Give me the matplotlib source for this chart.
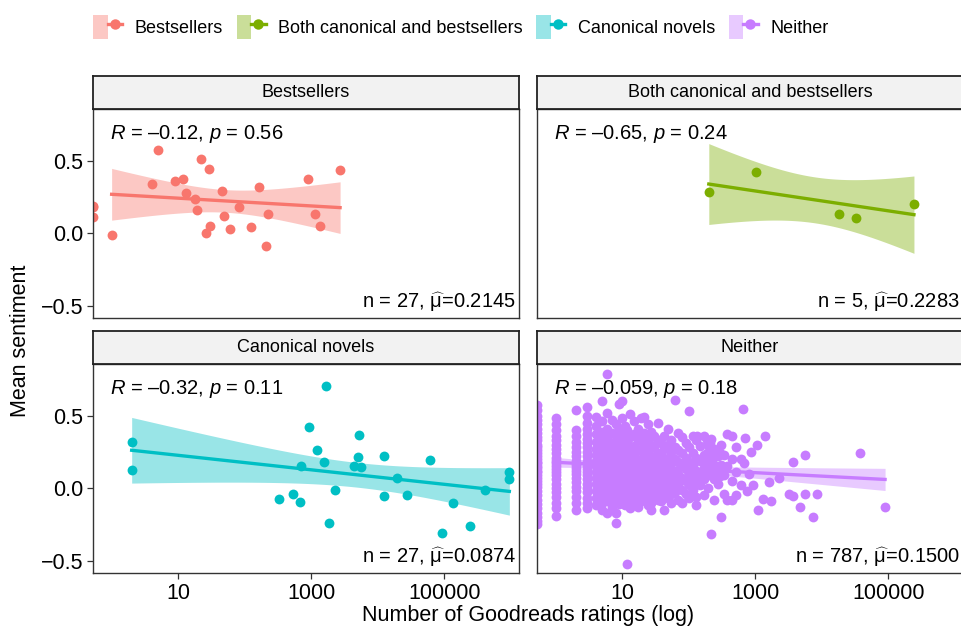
import math
import numpy as np
import matplotlib.pyplot as plt
from matplotlib.patches import Patch
from matplotlib.lines import Line2D
from matplotlib.legend_handler import HandlerTuple

plt.rcParams['font.family'] = ['Liberation Sans', 'DejaVu Sans']
plt.rcParams['mathtext.fontset'] = 'custom'
plt.rcParams['mathtext.rm'] = 'Liberation Sans'
plt.rcParams['mathtext.it'] = 'Liberation Sans:italic'

groups = ['Bestsellers', 'Both canonical and bestsellers', 'Canonical novels', 'Neither']
colors = ['#F8766D', '#7CAE00', '#00BFC4', '#C77CFF']
cor_labels = ['$R$ = \u20130.12, $p$ = 0.56', '$R$ = \u20130.65, $p$ = 0.24',
              '$R$ = \u20130.32, $p$ = 0.11', '$R$ = \u20130.059, $p$ = 0.18']
n_labels = [r'n = 27, $\widehat{\mathrm{μ}}$=0.2145', r'n = 5, $\widehat{\mathrm{μ}}$=0.2283',
            r'n = 27, $\widehat{\mathrm{μ}}$=0.0874', r'n = 787, $\widehat{\mathrm{μ}}$=0.1500']

# ratings of 0 sit at the left panel edge (log scale -> -Inf)
best_ratings = [0, 0, 0, 1, 4, 5, 9, 12, 13, 18, 19, 22, 29, 30, 26, 46, 48, 60,
                82, 126, 164, 209, 224, 881, 1122, 1349, 2704]
best_sent = [0.177, 0.109, 0.19, -0.014, 0.341, 0.575, 0.357, 0.370, 0.273, 0.236,
             0.161, 0.509, 0.445, 0.05, 0.0, 0.293, 0.120, 0.027, 0.182, 0.039,
             0.316, -0.091, 0.132, 0.375, 0.134, 0.052, 0.432]

both_ratings = [200, 1038, 17906, 32810, 241546]
both_sent = [0.286, 0.421, 0.132, 0.106, 0.200]

canon_ratings = [2, 2, 327, 522, 667, 698, 914, 1211, 1545, 1637, 1820, 2270, 4315,
                 4966, 5260, 5572, 12303, 12303, 19187, 26915, 60256, 91622,
                 136144, 238232, 407380, 922571, 944061]
canon_sent = [0.321, 0.126, -0.073, -0.039, -0.099, 0.149, 0.422, 0.261, 0.179,
              0.702, -0.239, -0.011, 0.151, 0.216, 0.367, 0.144, 0.220, -0.053,
              0.071, -0.050, 0.197, -0.312, -0.101, -0.264, -0.014, 0.110, 0.064]

# Neither: columns at 0, 1, 2 and 3 ratings
nei_r0 = [0.57, 0.54, 0.50, 0.47, 0.44, 0.41, 0.38, 0.35, 0.33, 0.30, 0.28, 0.26,
          0.24, 0.22, 0.20, 0.18, 0.17, 0.15, 0.14, 0.12, 0.11, 0.09, 0.07, 0.05,
          0.03, 0.01, -0.02, -0.05, -0.08, -0.11, -0.14, -0.17, -0.20, -0.23, -0.25]
nei_r1 = [0.48, 0.44, 0.40, 0.36, 0.33, 0.30, 0.27, 0.24, 0.21, 0.19, 0.17, 0.15,
          0.13, 0.11, 0.09, 0.06, 0.03, 0.00, -0.03, -0.06, -0.10, -0.14, -0.19]
nei_r2 = [0.54, 0.40, 0.36, 0.32, 0.28, 0.25, 0.22, 0.19, 0.16, 0.14, 0.12, 0.10,
          0.07, 0.04, 0.01, -0.02, -0.06, -0.10, -0.15]
nei_r3 = [0.56, 0.50, 0.45, 0.41, 0.37, 0.34, 0.31, 0.28, 0.25, 0.22, 0.19, 0.17,
          0.15, 0.13, 0.11, 0.09, 0.06, 0.03, 0.00, -0.03, -0.07, -0.10, -0.14]

nei_cloud_ratings = (
    [4] * 14 + [5] * 15 + [6] * 14 + [7] * 12 + [8] * 12 + [9] * 11 + [10] * 11
    + [11] * 10 + [12] * 9 + [13] * 10 + [15] * 10 + [17] * 9 + [19] * 9 + [21] * 9
    + [24] * 9 + [27] * 9 + [30] * 7 + [34] * 8 + [38] * 7 + [43] * 8 + [48] * 7
    + [55] * 7 + [63] * 6 + [70] * 6 + [80] * 6 + [90] * 5 + [100] * 6 + [115] * 5
    + [130] * 6 + [134] * 2 + [150] * 4 + [170] * 5 + [185] * 2 + [195] * 4
    + [205] * 2 + [214] * 4 + [230] * 2 + [240] * 4 + [260] * 2 + [275] * 3
    + [290] * 2 + [302] * 3 + [340] * 3 + [380] * 3 + [447] * 4 + [520] * 3
    + [600] * 2 + [660, 708, 680, 760, 800, 850, 933, 1047, 1096, 1288, 1413, 1622,
                   1700, 2290, 3162, 3715, 3715, 4677, 5500, 5500, 7244, 8500,
                   37150, 89000])
nei_cloud_sent = [
    0.49, 0.43, 0.37, 0.32, 0.27, 0.23, 0.19, 0.15, 0.11, 0.07, 0.03, -0.02, -0.07, -0.12,
    0.60, 0.46, 0.39, 0.34, 0.29, 0.25, 0.21, 0.17, 0.13, 0.09, 0.05, 0.00, -0.05, -0.10, -0.15,
    0.79, 0.52, 0.41, 0.35, 0.30, 0.24, 0.19, 0.14, 0.10, 0.06, 0.01, -0.04, -0.09, -0.17,
    0.47, 0.38, 0.31, 0.26, 0.20, 0.16, 0.11, 0.06, 0.02, -0.03, -0.08, -0.13,
    0.44, 0.36, 0.28, 0.22, 0.17, 0.12, 0.08, 0.03, -0.02, -0.07, -0.17, -0.24,
    0.58, 0.41, 0.33, 0.27, 0.21, 0.15, 0.10, 0.05, -0.01, -0.06, -0.11,
    0.60, 0.48, 0.39, 0.31, 0.25, 0.19, 0.13, 0.08, 0.03, -0.04, -0.10,
    0.43, 0.36, 0.29, 0.23, 0.17, 0.12, 0.06, 0.01, -0.05, -0.12,
    0.40, 0.32, 0.25, 0.18, 0.12, 0.07, 0.01, -0.06, -0.52,
    0.51, 0.35, 0.27, 0.21, 0.15, 0.09, 0.04, -0.03, -0.09, -0.14,
    0.46, 0.37, 0.29, 0.22, 0.16, 0.10, 0.05, -0.01, -0.07, -0.11,
    0.41, 0.33, 0.26, 0.19, 0.13, 0.07, 0.01, -0.05, -0.13,
    0.48, 0.35, 0.27, 0.20, 0.14, 0.08, 0.02, -0.04, -0.09,
    0.49, 0.38, 0.30, 0.23, 0.16, 0.10, 0.04, -0.02, -0.08,
    0.44, 0.33, 0.25, 0.18, 0.12, 0.06, 0.00, -0.06, -0.12,
    0.39, 0.30, 0.22, 0.15, 0.09, 0.03, -0.03, -0.10, -0.15,
    0.36, 0.28, 0.20, 0.13, 0.07, 0.01, -0.05,
    0.45, 0.33, 0.24, 0.17, 0.11, 0.05, -0.02, -0.08,
    0.31, 0.23, 0.16, 0.10, 0.03, -0.04, -0.09,
    0.36, 0.27, 0.19, 0.12, 0.06, -0.01, -0.07, -0.15,
    0.41, 0.30, 0.21, 0.14, 0.08, 0.01, -0.06,
    0.33, 0.25, 0.17, 0.10, 0.03, -0.04, -0.10,
    0.61, 0.28, 0.20, 0.12, 0.05, -0.03,
    0.38, 0.26, 0.18, 0.10, 0.02, -0.08,
    0.35, 0.24, 0.15, 0.07, -0.01, -0.10,
    0.31, 0.21, 0.13, 0.05, -0.04,
    0.53, 0.28, 0.18, 0.10, 0.02, -0.07,
    0.36, 0.24, 0.15, 0.07, -0.01,
    0.33, 0.21, 0.12, 0.04, -0.06, -0.12,
    0.36, 0.06,
    0.29, 0.19, 0.10, 0.02,
    0.36, 0.23, 0.14, 0.06, -0.05,
    0.33, 0.24,
    0.30, 0.18, 0.09, 0.00,
    0.31, 0.17,
    0.34, 0.21, 0.12, -0.32,
    0.21, 0.13,
    0.27, 0.15, 0.06, -0.08,
    0.15, 0.24,
    0.22, 0.12, 0.03,
    0.08, 0.24,
    0.30, 0.16, -0.20,
    0.23, 0.09, -0.04,
    0.37, 0.15, -0.08,
    0.36, 0.20, 0.05, -0.08,
    0.28, 0.11, -0.05,
    0.20, 0.02,
    0.548, 0.342, 0.174, -0.02, 0.10, 0.25, 0.018, 0.294, -0.154, -0.078, 0.362, 0.041,
    -0.09, 0.071, -0.044, 0.181, -0.055, -0.131, 0.225, -0.044, -0.197, -0.044,
    0.239, -0.131]

nei_ratings = [0] * len(nei_r0) + [1] * len(nei_r1) + [2] * len(nei_r2) + [3] * len(nei_r3) + nei_cloud_ratings
nei_sent = nei_r0 + nei_r1 + nei_r2 + nei_r3 + nei_cloud_sent

ratings = [best_ratings, both_ratings, canon_ratings, nei_ratings]
sentiment = [best_sent, both_sent, canon_sent, nei_sent]


def t975(df):
    # 97.5% quantile of Student t by bisection on a numeric CDF
    c = math.exp(math.lgamma((df + 1) / 2) - math.lgamma(df / 2)) / math.sqrt(df * math.pi)
    lo, hi = 0.0, 20.0
    for _ in range(50):
        mid = (lo + hi) / 2
        xs = np.linspace(0, mid, 2001)
        area = np.trapezoid(c * (1 + xs ** 2 / df) ** (-(df + 1) / 2), xs)
        if area < 0.475:
            lo = mid
        else:
            hi = mid
    return mid


with np.errstate(divide='ignore'):
    logs = [np.log10(np.array(r, dtype=float)) for r in ratings]
xlo, xhi = -0.28, 6.12
ally = np.concatenate([np.array(s) for s in sentiment])
ylo = ally.min() - 0.05 * (ally.max() - ally.min())
yhi = ally.max() + 0.05 * (ally.max() - ally.min())

W, H = 961, 632
fig = plt.figure(figsize=(W / 100, H / 100), dpi=100)


def rect(x0, y0, w, h):
    return [x0 / W, 1 - (y0 + h) / H, w / W, h / H]


origins = [(93, 109), (537, 109), (93, 364), (537, 364)]
pw, ph, sh = 426, 209, 33

for i, g in enumerate(groups):
    x0, y0 = origins[i]
    ax = fig.add_axes(rect(x0, y0, pw, ph))
    lx = logs[i]
    sy = np.array(sentiment[i])
    px = np.where(np.isfinite(lx), lx, xlo)
    ax.scatter(px, sy, s=50, color=colors[i], linewidths=0, zorder=2)

    # linear fit with 95% confidence band
    m = np.isfinite(lx)
    xf, yf = lx[m], sy[m]
    n = len(xf)
    b, a = np.polyfit(xf, yf, 1)
    resid = yf - (a + b * xf)
    s = math.sqrt((resid ** 2).sum() / (n - 2))
    sxx = ((xf - xf.mean()) ** 2).sum()
    xg = np.linspace(xf.min(), xf.max(), 80)
    yg = a + b * xg
    half = t975(n - 2) * s * np.sqrt(1 / n + (xg - xf.mean()) ** 2 / sxx)
    ax.fill_between(xg, yg - half, yg + half, color=colors[i], alpha=0.4, lw=0, zorder=3)
    ax.plot(xg, yg, color=colors[i], lw=2.4, zorder=4)

    ax.text(0.04, 0.88, cor_labels[i], transform=ax.transAxes, fontsize=14.5,
            va='center', ha='left', zorder=6)
    ax.text(0.992, 0.077, n_labels[i], transform=ax.transAxes, fontsize=14.5,
            va='center', ha='right', zorder=6)

    ax.set_xlim(xlo, xhi)
    ax.set_ylim(ylo, yhi)
    ax.set_xticks([1, 3, 5])
    ax.set_yticks([-0.5, 0.0, 0.5])
    ax.tick_params(length=4, width=0.9, labelsize=15.5, color='#333333', pad=3)
    if i < 2:
        ax.tick_params(axis='x', bottom=False, labelbottom=False)
    else:
        ax.set_xticklabels(['10', '1000', '100000'])
    if i % 2 == 1:
        ax.tick_params(axis='y', left=False, labelleft=False)
    else:
        ax.set_yticklabels(['\u22120.5', '0.0', '0.5'])
    for sp in ax.spines.values():
        sp.set_linewidth(1.0)
        sp.set_color('#333333')

    sax = fig.add_axes(rect(x0, y0 - sh, pw, sh))
    sax.set_facecolor('#F2F2F2')
    sax.set_xticks([])
    sax.set_yticks([])
    for sp in sax.spines.values():
        sp.set_linewidth(1.3)
        sp.set_color('#222222')
    sax.text(0.5, 0.5, g, transform=sax.transAxes, ha='center', va='center', fontsize=13)

fig.text((93 + 963) / 2 / W, 1 - 616 / H, 'Number of Goodreads ratings (log)',
         ha='center', va='center', fontsize=15.5)
fig.text(21 / W, 1 - 341 / H, 'Mean sentiment', rotation=90, ha='center',
         va='center', fontsize=15.5)

handles = [(Patch(facecolor=c, alpha=0.4, lw=0),
            Line2D([], [], color=c, lw=2.4, marker='o', markersize=7.5, markeredgewidth=0))
           for c in colors]
fig.legend(handles, groups, loc='center', bbox_to_anchor=(461 / W, 1 - 27 / H), ncol=4,
           frameon=False, fontsize=13, handlelength=1.6, handleheight=1.6,
           handletextpad=0.7, columnspacing=0.75,
           handler_map={tuple: HandlerTuple(ndivide=None, pad=0)})

fig.savefig('out.png', dpi=100)
